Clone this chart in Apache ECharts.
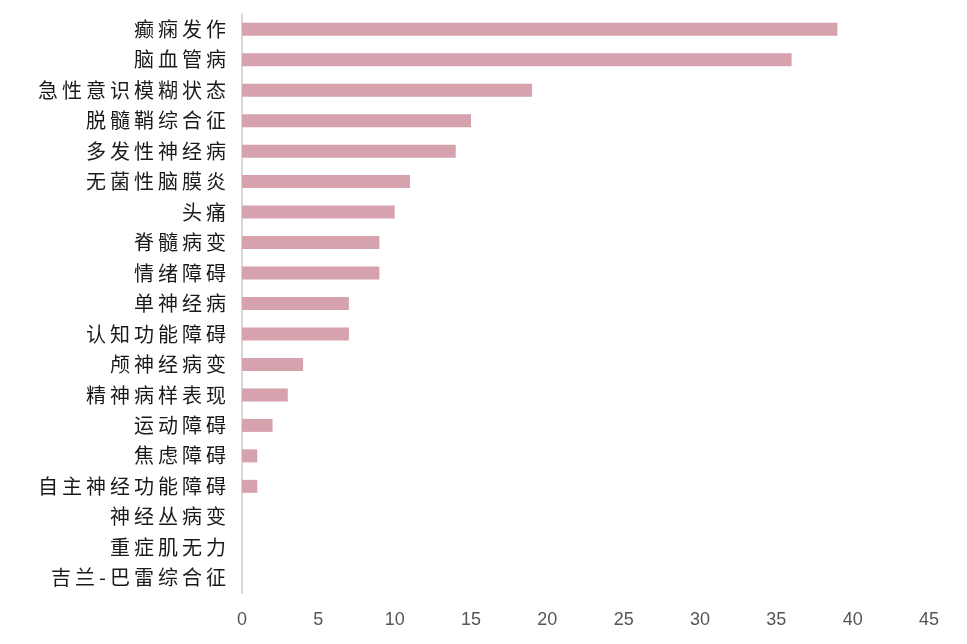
<!DOCTYPE html>
<html><head><meta charset="utf-8">
<script src="https://cdn.jsdelivr.net/npm/echarts@6/dist/echarts.min.js"></script>
<style>html,body{margin:0;padding:0;background:#fff}#c{width:967px;height:644px}</style>
</head><body><div id="c"></div>
<script>
const categories = ["癫痫发作","脑血管病","急性意识模糊状态","脱髓鞘综合征","多发性神经病","无菌性脑膜炎","头痛","脊髓病变","情绪障碍","单神经病","认知功能障碍","颅神经病变","精神病样表现","运动障碍","焦虑障碍","自主神经功能障碍","神经丛病变","重症肌无力","吉兰-巴雷综合征"];
const values = [39,36,19,15,14,11,10,9,9,7,7,4,3,2,1,1,0,0,0];
const xTicks = [0,5,10,15,20,25,30,35,40,45];

const chart = echarts.init(document.getElementById('c'));
chart.setOption({
  animation:false,
  grid:{left:242,right:38,top:14,bottom:51,containLabel:false},
  xAxis:{type:'value',min:0,max:45,interval:5,
    axisLine:{show:false},axisTick:{show:false},splitLine:{show:false},
    axisLabel:{color:'#555',fontSize:18,margin:18,fontFamily:'Liberation Sans, Arial, sans-serif',
      formatter:v=>xTicks.includes(v)?String(v):''}},
  yAxis:{type:'category',data:categories,inverse:true,
    axisLine:{show:true,lineStyle:{color:'#d8d8d8',width:2}},axisTick:{show:false},
    axisLabel:{color:'#1a1a1a',fontSize:20,margin:16,fontFamily:'Noto Sans CJK SC, sans-serif',
      formatter:s=>Array.from(s).join('\u2009')}},
  series:[{type:'bar',data:values,barWidth:13,itemStyle:{color:'#d5a2ad'}}]
});
</script></body></html>
